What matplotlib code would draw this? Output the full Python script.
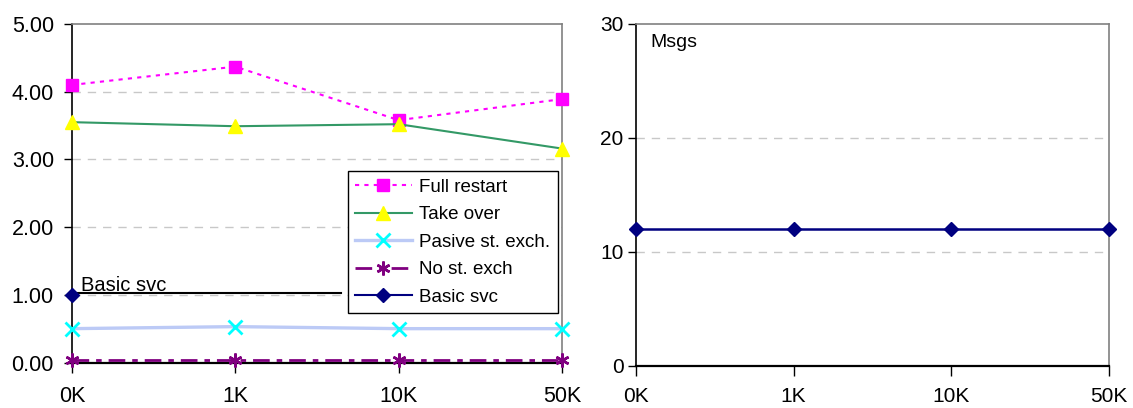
import matplotlib
matplotlib.use("Agg")
import matplotlib.pyplot as plt

# data
sizes = ["0K", "1K", "10K", "50K"]
full_restart = [4.10, 4.37, 3.58, 3.89]
take_over = [3.55, 3.49, 3.52, 3.16]
pasive_exch = [0.50, 0.53, 0.50, 0.50]
no_exch = [0.03, 0.03, 0.03, 0.03]
basic_svc = [1.00]          # only the first point is plotted
basic_msgs = [12, 12, 12, 12]

left_ticks = [0, 1, 2, 3, 4, 5]
right_ticks = [0, 10, 20, 30]

basic_ref_level = 1.02      # hand-drawn reference line on the left chart
basic_ref_end = 0.55        # fraction of the axis width

plt.rcParams['font.family'] = ['Liberation Sans', 'DejaVu Sans']

fig = plt.figure(figsize=(11.33, 4.08), dpi=100)
ax1 = fig.add_axes([0.0635, 0.1115, 0.4325, 0.8297])
ax2 = fig.add_axes([0.5613, 0.1030, 0.4175, 0.8382])

x = list(range(len(sizes)))
grid_kw = dict(color='#c8c8c8', linestyle=(0, (6, 5)), linewidth=1.0, zorder=0)


def style_axes(ax, ticks, fmt, fsize, pad_y, pad_x):
    ax.set_xlim(0, len(sizes) - 1)
    ax.set_ylim(ticks[0], ticks[-1])
    ax.set_yticks(ticks)
    ax.set_yticklabels([fmt.format(t) for t in ticks], fontsize=fsize)
    ax.set_xticks(x)
    ax.set_xticklabels(sizes, fontsize=fsize)
    for t in ticks[1:-1]:
        ax.axhline(t, **grid_kw)
    ax.spines['top'].set_color('#808080')
    ax.spines['right'].set_color('#808080')
    ax.spines['left'].set_color('black')
    ax.spines['bottom'].set_color('black')
    for s in ax.spines.values():
        s.set_linewidth(1.2)
    ax.spines['bottom'].set_linewidth(1.6)
    ax.tick_params(axis='y', length=6, width=1, pad=pad_y)
    ax.tick_params(axis='x', length=7, width=1, pad=pad_x)


# left chart
style_axes(ax1, left_ticks, "{:.2f}", 15.5, 7, 10)

ax1.plot(x, full_restart, color='#ff00ff', linestyle=(0, (2, 2.5)), linewidth=1.5,
         marker='s', markersize=8, label='Full restart', clip_on=False, zorder=5)
ax1.plot(x, take_over, color='#339966', linewidth=1.5,
         marker='^', markersize=10, markerfacecolor='#ffff00', markeredgecolor='#ffff00',
         label='Take over', clip_on=False, zorder=5)
ax1.plot(x, pasive_exch, color='#bccaf6', linewidth=2.4,
         marker='x', markersize=10, markeredgecolor='#00ffff', markeredgewidth=2,
         label='Pasive st. exch.', clip_on=False, zorder=4)
ax1.plot(x, no_exch, color='#800080', linestyle=(0, (6, 2.5, 2, 2.5)), linewidth=2,
         marker=(6, 2, 0), markersize=10, markeredgecolor='#800080', markeredgewidth=1.8,
         label='No st. exch', clip_on=False, zorder=5)
ax1.plot(x[:len(basic_svc)], basic_svc, color='#000080', linewidth=1.5,
         marker='D', markersize=7, label='Basic svc', clip_on=False, zorder=6)

ax1.axhline(basic_ref_level, xmin=0, xmax=basic_ref_end, color='black', linewidth=1.5, zorder=3)
ax1.text(0.055, basic_ref_level - 0.03, "Basic svc", fontsize=14.5, ha='left', va='bottom',
         zorder=6)

leg = ax1.legend(loc='lower left', bbox_to_anchor=(0.563, 0.146), fontsize=13.5,
                 frameon=True, fancybox=False, edgecolor='black', framealpha=1,
                 handlelength=3.0, handletextpad=0.4, labelspacing=0.55,
                 borderpad=0.4, borderaxespad=0)
leg.get_frame().set_linewidth(1.0)

# right chart
style_axes(ax2, right_ticks, "{:d}", 15, 3, 8)
ax2.plot(x, basic_msgs, color='#000080', linewidth=1.8,
         marker='D', markersize=7, clip_on=False, zorder=5)
ax2.text(0.03, 0.97, "Msgs", transform=ax2.transAxes, fontsize=14,
         ha='left', va='top')

fig.savefig("out.png", dpi=100)
